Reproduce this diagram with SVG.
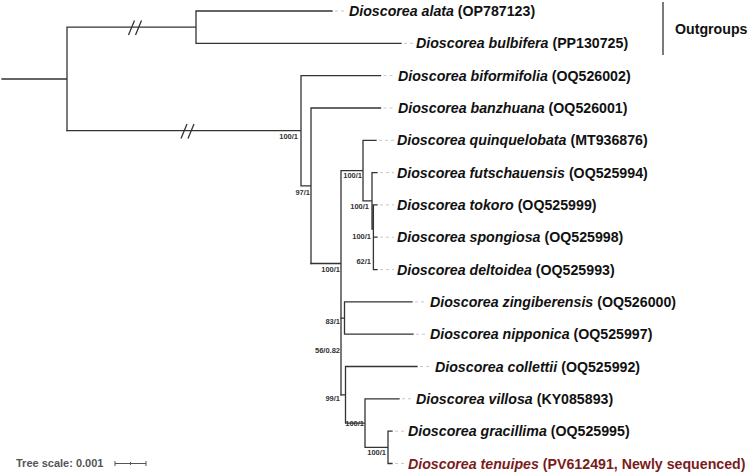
<svg xmlns="http://www.w3.org/2000/svg" width="750" height="474" viewBox="0 0 750 474">
<style>
.br{fill:none;stroke:#333;stroke-width:1.3;stroke-linecap:square}
.dash{fill:none;stroke:#c8c8c8;stroke-width:1;stroke-dasharray:3,3}
.lab{font-family:"Liberation Sans",Arial,sans-serif;font-size:14.2px;font-weight:bold;fill:#111}
.lab tspan.sp{font-style:italic}
.red{fill:#7a1c1c}
.sup{font-family:"Liberation Sans",Arial,sans-serif;font-size:7.5px;font-weight:bold;fill:#333;text-anchor:end}
.brk{fill:none;stroke:#333;stroke-width:1.3}
</style>
<rect width="750" height="474" fill="#fff"/>
<g id="connectors">
<path class="br" d="M2,79 H67 M67,27.2 V130.7 M67,27.2 H196 M196,11 V43.3 M196,11 H332 M196,43.3 H401"/>
<path class="br" d="M67,130.7 H301 M301,75.6 V185.8 M301,75.6 H380.5 M301,185.8 H311 M311,108 V263.5 M311,108 H380.5"/>
<path class="br" d="M311,263.5 H341 M341,170.6 V394.8 M341,170.6 H363 M363,140.3 V200.9 M363,140.3 H376 M363,200.9 H372 M372,172.6 V229.1 M372,172.6 H377 M372,229.1 H373.4 M373.4,204.9 V253.4 M373.4,204.9 H377 M373.4,237.2 V269.6 M373.4,237.2 H377 M373.4,269.6 H377"/>
<path class="br" d="M341,318.1 H344.5 M344.5,301.9 V334.2 M344.5,301.9 H412 M344.5,334.2 H413 M341,394.8 H345.5 M345.5,366.5 V423.1 M345.5,366.5 H417 M345.5,423.1 H365 M365,398.8 V447.3 M365,398.8 H399 M365,447.3 H388 M388,431.2 V463.5 M388,431.2 H392 M388,463.5 H392"/>
<path class="brk" d="M128.5,35 L134.5,20.5 M135.5,35 L141.5,20.5 M181,138.5 L187,124 M188,138.5 L194,124"/>
<path class="dash" d="M335,11 H346 M404,43.3 H413 M383.5,75.6 H395 M383.5,108 H395 M379,140.3 H394 M380,172.6 H394 M380,204.9 H394 M380,237.2 H394 M380,269.6 H394 M415,301.9 H427 M416,334.2 H427 M420,366.5 H432 M402,398.8 H413 M395,431.2 H405 M395,463.5 H405"/>
<line x1="663" y1="2" x2="663" y2="55" stroke="#333" stroke-width="1.3"/>
</g>
<g id="leaf-alata"><text class="lab" x="349" y="16"><tspan class="sp">Dioscorea alata</tspan> (OP787123)</text></g>
<g id="leaf-bulbifera"><text class="lab" x="416" y="48.3"><tspan class="sp">Dioscorea bulbifera</tspan> (PP130725)</text></g>
<g id="leaf-biformifolia"><text class="lab" x="398" y="80.6"><tspan class="sp">Dioscorea biformifolia</tspan> (OQ526002)</text></g>
<g id="leaf-banzhuana"><text class="lab" x="398" y="113"><tspan class="sp">Dioscorea banzhuana</tspan> (OQ526001)</text></g>
<g id="leaf-quinquelobata"><text class="lab" x="397" y="145.3"><tspan class="sp">Dioscorea quinquelobata</tspan> (MT936876)</text></g>
<g id="leaf-futschauensis"><text class="lab" x="397" y="177.6"><tspan class="sp">Dioscorea futschauensis</tspan> (OQ525994)</text></g>
<g id="leaf-tokoro"><text class="lab" x="397" y="209.9"><tspan class="sp">Dioscorea tokoro</tspan> (OQ525999)</text></g>
<g id="leaf-spongiosa"><text class="lab" x="397" y="242.2"><tspan class="sp">Dioscorea spongiosa</tspan> (OQ525998)</text></g>
<g id="leaf-deltoidea"><text class="lab" x="397" y="274.6"><tspan class="sp">Dioscorea deltoidea</tspan> (OQ525993)</text></g>
<g id="leaf-zingiberensis"><text class="lab" x="430" y="306.9"><tspan class="sp">Dioscorea zingiberensis</tspan> (OQ526000)</text></g>
<g id="leaf-nipponica"><text class="lab" x="430" y="339.2"><tspan class="sp">Dioscorea nipponica</tspan> (OQ525997)</text></g>
<g id="leaf-collettii"><text class="lab" x="435" y="371.5"><tspan class="sp">Dioscorea collettii</tspan> (OQ525992)</text></g>
<g id="leaf-villosa"><text class="lab" x="416" y="403.8"><tspan class="sp">Dioscorea villosa</tspan> (KY085893)</text></g>
<g id="leaf-gracillima"><text class="lab" x="408" y="436.2"><tspan class="sp">Dioscorea gracillima</tspan> (OQ525995)</text></g>
<g id="leaf-tenuipes"><text class="lab red" x="408" y="468.5"><tspan class="sp">Dioscorea tenuipes</tspan> (PV612491, Newly sequenced)</text></g>
<g id="outgroups-label"><text class="lab" x="675" y="34">Outgroups</text></g>
<g id="supports">
<text class="sup" x="298" y="139">100/1</text>
<text class="sup" x="310" y="195">97/1</text>
<text class="sup" x="362" y="178">100/1</text>
<text class="sup" x="369" y="209">100/1</text>
<text class="sup" x="371" y="239">100/1</text>
<text class="sup" x="371" y="264">62/1</text>
<text class="sup" x="340" y="272">100/1</text>
<text class="sup" x="340" y="324">83/1</text>
<text class="sup" x="340" y="353">56/0.82</text>
<text class="sup" x="340" y="401">99/1</text>
<text class="sup" x="364" y="426">100/1</text>
<text class="sup" x="386" y="455">100/1</text>
</g>
<g id="scale">
<text x="16" y="467" font-family="'Liberation Sans',Arial,sans-serif" font-size="11" font-weight="bold" fill="#555">Tree scale: 0.001</text>
<path d="M115,463.5 H146 M115,461 V466 M146,461 V466 M130.5,462 V465" fill="none" stroke="#555" stroke-width="1"/>
</g>
</svg>
